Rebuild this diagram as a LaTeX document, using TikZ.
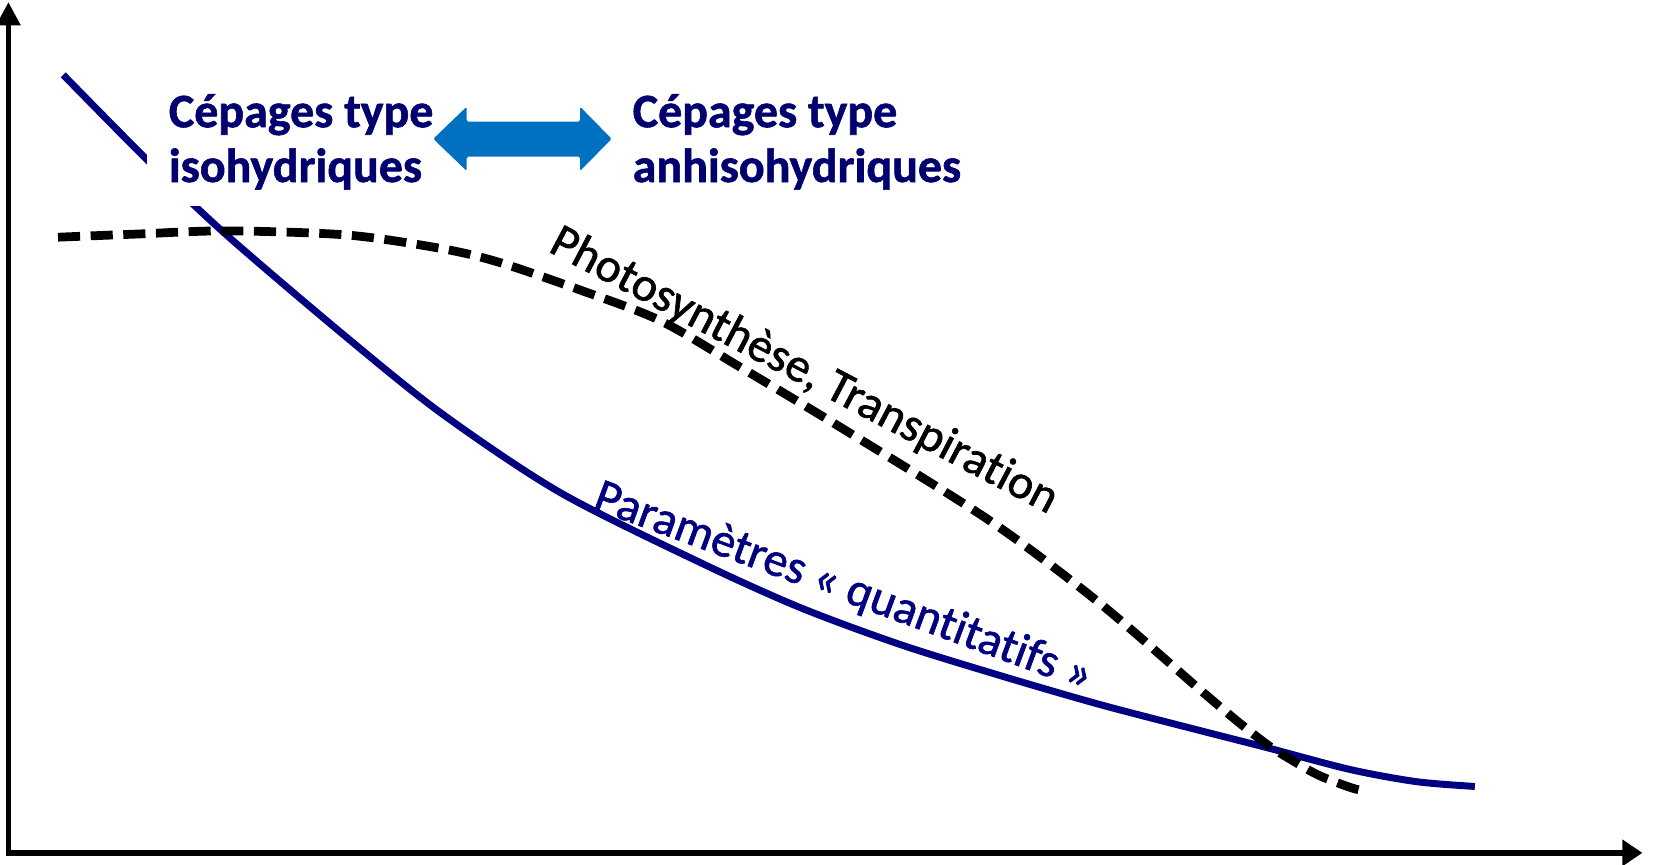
\documentclass[tikz,border=0pt]{standalone}
\usepackage{fontspec}
\setmainfont{Carlito}
\newfontfamily\headfont[FakeBold=1.2,Ligatures=NoCommon]{Carlito Bold}
\newfontfamily\labelfont[FakeBold=1.3,Ligatures=NoCommon]{Carlito}
\usetikzlibrary{arrows.meta}
\definecolor{navycurve}{RGB}{0,0,128}
\definecolor{headblue}{RGB}{0,0,110}
\definecolor{arrowblue}{RGB}{0,112,192}
\tikzset{
  axisline/.style={line width=5pt, line join=miter},
  bluecurve/.style={draw=navycurve, line width=6.6pt},
  dashcurve/.style={draw=black, line width=8.3pt, dash pattern=on 21pt off 10pt},
  headtext/.style={text=headblue, font=\fontsize{45.5}{52}\headfont, align=left,
                   inner xsep=21pt, inner ysep=16pt, anchor=south west},
  curvelabel/.style={font=\fontsize{45.5}{52}\labelfont, inner sep=0pt, anchor=base west},
}
\begin{document}
\begin{tikzpicture}[x=1pt,y=-1pt]
\useasboundingbox (0,0) rectangle (1568,820);

% axes
\coordinate (ytip) at (8,2);
\coordinate (origin) at (8,809);
\coordinate (xtip) at (1558,809);
\draw[axisline, {Triangle[length=22pt,width=22pt]}-{Triangle[length=19pt,width=24pt]}]
  (ytip) -- (origin) -- (xtip);

% blue curve
\draw[bluecurve] plot[smooth, tension=0.5] coordinates {
  (60,71) (139,151) (215,223) (330,321) (420,393) (531,467) (664,533.5) (759,576.3)
  (854,611.4) (949,640.9) (1043,668.2) (1138,692.9) (1203,709.5) (1281,730) (1344,741.5) (1399,746)};

% dashed curve
\draw[dashcurve] plot[smooth, tension=0.5] coordinates {
  (55,225) (130,222) (215,219) (330,223) (420,236) (474,249) (550,275) (626,304)
  (700,347) (800,407) (939,494) (1043,572) (1138,654) (1176,686) (1203,707)
  (1222,719) (1250,735) (1281,747) (1293,750)};

% headings
\node[headtext, fill=white] (iso) at (139,196) {Cépages type\\isohydriques};
\node[headtext] (aniso) at (579,196) {Cépages type\\anhisohydriques};

% double arrow
\fill[arrowblue, rounded corners=1.5pt] (411,131.7) -- (442.7,101.2) -- (442.7,115.4)
  -- (550.2,115.4) -- (550.2,101.2) -- (580.2,131.7) -- (550.2,162.2) -- (550.2,148.6)
  -- (442.7,148.6) -- (442.7,162.2) -- cycle;

% curve labels
\node[curvelabel, rotate=-27.7] (photo) at (519,238) {Photosynthèse, Transpiration};
\node[curvelabel, rotate=-20.3, text=navycurve] (param) at (561,482) {Paramètres « quantitatifs »};
\end{tikzpicture}
\end{document}
